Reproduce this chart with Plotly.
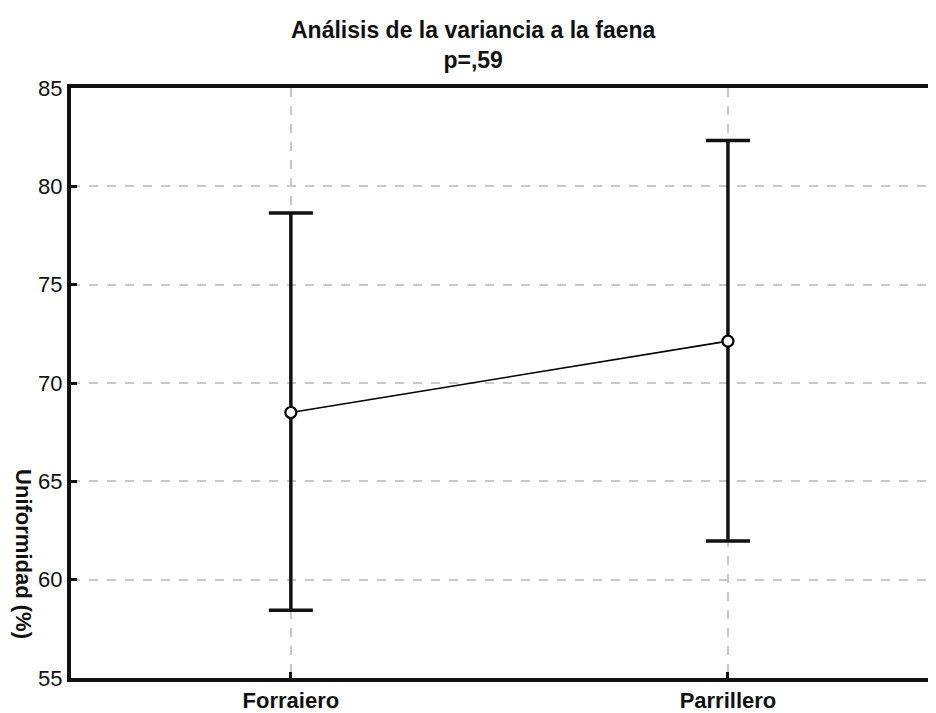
import plotly.graph_objects as go

categories = ["Forraiero", "Parrillero"]
means = [68.5, 72.13]
upper = [78.65, 82.33]
lower = [58.45, 61.97]
y_ticks = [55, 60, 65, 70, 75, 80, 85]

err_plus = [u - m for u, m in zip(upper, means)]
err_minus = [m - l for m, l in zip(means, lower)]
xpos = list(range(len(categories)))

FONT = "Liberation Sans, Arial, sans-serif"

fig = go.Figure()
fig.add_trace(go.Scatter(
    x=xpos, y=means, mode="lines+markers",
    line=dict(color="black", width=1.6),
    marker=dict(symbol="circle", size=11, color="white",
                line=dict(color="black", width=2.2)),
    error_y=dict(type="data", symmetric=False, array=err_plus, arrayminus=err_minus,
                 color="#111111", thickness=3.5, width=22),
    showlegend=False,
))

fig.update_layout(
    width=928, height=705,
    margin=dict(l=63, r=0, t=80, b=31),
    paper_bgcolor="white", plot_bgcolor="white",
    font=dict(family=FONT, color="#111111", size=21),
    xaxis=dict(range=[-0.503, 1.476], tickvals=xpos, ticktext=["<b>%s</b>" % c for c in categories],
               showline=True, linecolor="#111111", linewidth=4, mirror=True,
               ticks="inside", ticklen=6, tickwidth=3, tickcolor="#111111",
               showgrid=True, gridcolor="#c6c8cc", gridwidth=1.5, griddash="dash",
               zeroline=False, tickfont=dict(size=22)),
    yaxis=dict(range=[55, 85], tickvals=y_ticks,
               showline=True, linecolor="#111111", linewidth=4,
               ticks="inside", ticklen=6, tickwidth=3, tickcolor="#111111",
               showgrid=True, gridcolor="#c6c8cc", gridwidth=1.5, griddash="dash",
               zeroline=False, tickfont=dict(size=22)),
    annotations=[
        dict(text="<b>Uniformidad (%)</b>", textangle=90,
             xref="paper", yref="paper", x=0, xshift=-47, y=0.21,
             xanchor="center", yanchor="middle", showarrow=False,
             font=dict(size=22, family=FONT, color="#111111")),
        dict(text="<b>Análisis de la variancia a la faena</b><br><b>p=,59</b>",
             xref="paper", yref="paper", x=0.465, y=1, yshift=13,
             xanchor="center", yanchor="bottom", showarrow=False,
             font=dict(size=23, family=FONT, color="#111111")),
    ],
)

fig.write_html("out.html")
